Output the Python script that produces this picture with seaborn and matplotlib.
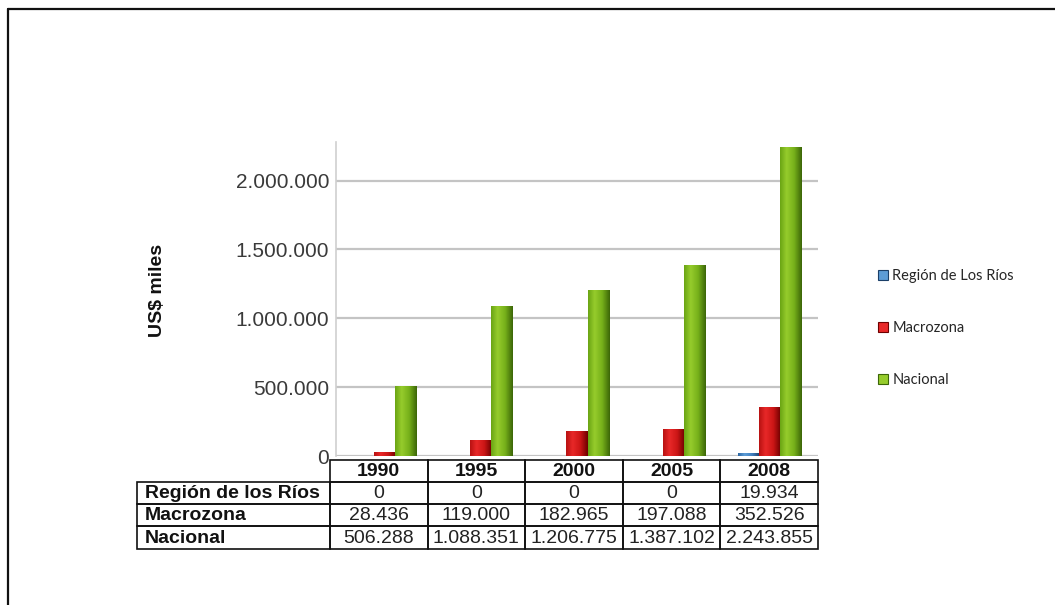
import numpy as np
import pandas as pd
import matplotlib
matplotlib.use("Agg")
import matplotlib.pyplot as plt
import seaborn as sns
from matplotlib.patches import Rectangle, Patch
from matplotlib.lines import Line2D
from matplotlib.ticker import FuncFormatter
from matplotlib.colors import to_rgb

# ---- data (US$ miles) ----
years = ["1990", "1995", "2000", "2005", "2008"]
series = ["Región de Los Ríos", "Macrozona", "Nacional"]
row_labels = ["Región de los Ríos", "Macrozona", "Nacional"]
region_rios = [0, 0, 0, 0, 19934]
macrozona = [28436, 119000, 182965, 197088, 352526]
nacional = [506288, 1088351, 1206775, 1387102, 2243855]
y_ticks = [0, 500000, 1000000, 1500000, 2000000]

values = [region_rios, macrozona, nacional]
df = pd.DataFrame(
    [(y, s, v) for s, vals in zip(series, values) for y, v in zip(years, vals)],
    columns=["Año", "Serie", "Valor"],
)

def fmt_cl(v):
    return f"{int(v):,}".replace(",", ".")

# cylinder-like shading: left, highlight, mid, right edge
shades = {
    "Región de Los Ríos": ["#2c66a3", "#5c9cd6", "#3f7fbf", "#1b3f68"],
    "Macrozona": ["#b81212", "#e82828", "#cc1616", "#6e0000"],
    "Nacional": ["#6aa414", "#96cc2c", "#76b01a", "#3c6608"],
}
base_colors = {k: v[2] for k, v in shades.items()}

sns.set_theme(style="white")
plt.rcParams["font.family"] = ["Liberation Sans", "DejaVu Sans"]

W, H = 1055, 605
fig = plt.figure(figsize=(W / 100, H / 100), dpi=100)
fig.patch.set_facecolor("white")

def fx(px):
    return px / W

def fy(py):
    return 1 - py / H

ax = fig.add_axes([fx(336), fy(456), fx(818) - fx(336), fy(142) - fy(456)])
sns.barplot(data=df, x="Año", y="Valor", hue="Serie", hue_order=series,
            palette=base_colors, width=0.66, saturation=1, ax=ax,
            edgecolor="none", legend=False, zorder=3)

ymax = 2280000

# gradient overlay on every bar
def gradient_img(cols, n=64):
    stops = [0.0, 0.3, 0.65, 1.0]
    rgb = np.array([to_rgb(c) for c in cols])
    t = np.linspace(0, 1, n)
    img = np.stack([np.interp(t, stops, rgb[:, i]) for i in range(3)], axis=-1)
    return img[np.newaxis, :, :]

for container, name in zip(ax.containers, series):
    img = gradient_img(shades[name])
    for p in container.patches:
        x0, w, h = p.get_x(), p.get_width(), p.get_height()
        if h <= 0:
            continue
        im = ax.imshow(img, extent=[x0, x0 + w, 0, h], aspect="auto",
                       zorder=4, interpolation="bilinear")
        im.set_clip_path(p)
ax.set_xlim(-0.5, 4.5)
ax.set_ylim(0, ymax)

ax.set_yticks(y_ticks)
ax.yaxis.set_major_formatter(FuncFormatter(lambda v, _: fmt_cl(v)))
ax.tick_params(axis="y", labelsize=15, labelcolor="#3a3a3a", length=0, pad=5)
ax.set_xticks([])
ax.set_xlabel("")
ax.set_ylabel("")
ax.grid(False)
for yv in y_ticks:
    ax.axhline(yv, color="#c4c4c4", lw=1.6, zorder=1)
for side in ["top", "right", "bottom"]:
    ax.spines[side].set_visible(False)
ax.spines["left"].set_color("#cfcfcf")
ax.spines["left"].set_linewidth(1.2)
ax.set_facecolor("none")

fig.text(fx(157), fy(290), "US$ miles", rotation=90, ha="center", va="center",
         fontsize=14, fontweight="bold", color="#111111")

# legend at the right
handles = [Patch(facecolor=shades[s][1], edgecolor=shades[s][3], linewidth=0.8)
           for s in series]
fig.legend(handles, series, loc="center left", bbox_to_anchor=(fx(872), fy(328)),
           frameon=False, prop={"family": "Lato", "size": 10.5},
           handlelength=0.7, handleheight=0.7, handletextpad=0.3,
           labelspacing=2.6, borderaxespad=0)

# data table under the chart
tax = fig.add_axes([0, 0, 1, 1], zorder=5)
tax.set_xlim(0, W)
tax.set_ylim(H, 0)
tax.axis("off")

label_x0, col_x0, col_x1 = 137, 330, 818
col_w = (col_x1 - col_x0) / len(years)
row_tops = [460, 482, 504, 526, 549]
cell_kw = dict(facecolor="none", edgecolor="#111111", linewidth=1.2)

for i, yr in enumerate(years):
    cx = col_x0 + i * col_w
    tax.add_patch(Rectangle((cx, row_tops[0]), col_w, row_tops[1] - row_tops[0], **cell_kw))
    tax.text(cx + col_w / 2, (row_tops[0] + row_tops[1]) / 2 + 1, yr, ha="center",
             va="center", fontsize=14, fontweight="bold", color="#111111")

for r, (lab, vals) in enumerate(zip(row_labels, values)):
    y0, y1 = row_tops[r + 1], row_tops[r + 2]
    tax.add_patch(Rectangle((label_x0, y0), col_x0 - label_x0, y1 - y0, **cell_kw))
    tax.text(label_x0 + 8, (y0 + y1) / 2 + 1, lab, ha="left", va="center",
             fontsize=14, fontweight="bold", color="#111111")
    for i, v in enumerate(vals):
        cx = col_x0 + i * col_w
        tax.add_patch(Rectangle((cx, y0), col_w, y1 - y0, **cell_kw))
        tax.text(cx + col_w / 2, (y0 + y1) / 2 + 1, fmt_cl(v), ha="center",
                 va="center", fontsize=14, color="#222222")

# outer frame lines (top and left)
tax.add_line(Line2D([8, W], [9, 9], color="#111111", lw=1.6))
tax.add_line(Line2D([8, 8], [9, H], color="#111111", lw=1.6))

fig.savefig("out.png", dpi=100, facecolor="white")
